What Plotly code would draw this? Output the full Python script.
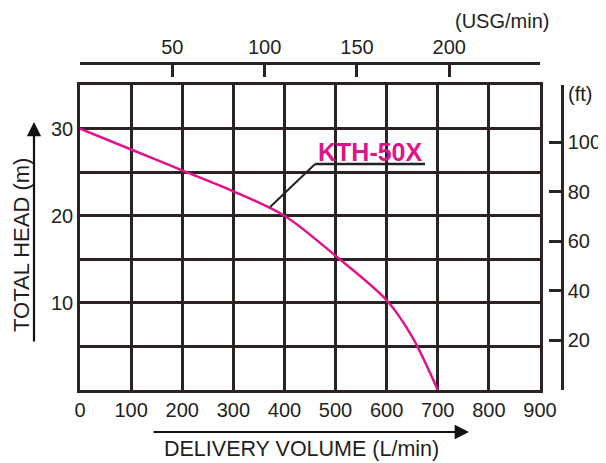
import plotly.graph_objects as go

# ---- data ----
flow_lpm = [0, 100, 200, 300, 400, 500, 600, 650, 700]
head_m = [30, 27.6, 25.2, 22.8, 20.0, 15.4, 10.3, 6.1, 0]
x_ticks = [0, 100, 200, 300, 400, 500, 600, 700, 800, 900]
y_ticks = [0, 5, 10, 15, 20, 25, 30, 35]
y_ticktext = ["", "", "10", "", "20", "", "30", ""]
usg_ticks = [50, 100, 150, 200]
ft_ticks = [20, 40, 60, 80, 100]
series_name = "KTH-50X"

L_PER_USG = 3.78541
M_PER_FT = 0.3048

OFF = 8  # page body margin
W, H = 606 - OFF, 463 - OFF
ml, mt = 80 - OFF, 63 - OFF
mr = W - (562 - OFF)
mb = H - (390 - OFF)
pw, ph = W - ml - mr, H - mt - mb
xdom = (540 - 80) / pw
ydom = (390 - 85) / ph

XMAX, YMAX = 900, 35
GRID = "#2b2222"
MAG = "#e0148a"
FONT = "Liberation Sans, Arial, sans-serif"

fig = go.Figure()
fig.add_trace(go.Scatter(x=flow_lpm, y=head_m, mode="lines",
                         line=dict(color=MAG, width=2.5, shape="spline", smoothing=0.9),
                         showlegend=False, hoverinfo="skip"))
fig.add_trace(go.Scatter(x=[0], y=[None], xaxis="x2", yaxis="y", showlegend=False, hoverinfo="skip"))
fig.add_trace(go.Scatter(x=[0], y=[None], xaxis="x", yaxis="y2", showlegend=False, hoverinfo="skip"))

tickfont = dict(size=20)
fig.update_layout(
    width=W, height=H,
    margin=dict(l=ml, r=mr, t=mt, b=mb),
    paper_bgcolor="white", plot_bgcolor="white",
    font=dict(family=FONT, size=20, color="#231f20"),
    xaxis=dict(domain=[0, xdom], range=[0, XMAX], tickvals=x_ticks, tickfont=tickfont,
               showgrid=True, gridcolor=GRID, gridwidth=2.5,
               showline=True, linecolor=GRID, linewidth=2.5, mirror=True,
               ticks="", ticklen=0, zeroline=False, fixedrange=True, automargin=False),
    yaxis=dict(domain=[0, ydom], range=[0, YMAX], tickvals=y_ticks, ticktext=y_ticktext,
               tickfont=tickfont,
               showgrid=True, gridcolor=GRID, gridwidth=2.5,
               showline=True, linecolor=GRID, linewidth=2.5, mirror=True,
               ticks="", ticklen=0, zeroline=False, fixedrange=True, automargin=False),
    xaxis2=dict(overlaying="x", side="top", anchor="free", position=1,
                domain=[0, 1], range=[0, XMAX / L_PER_USG / xdom], tickfont=tickfont,
                tickvals=usg_ticks, ticks="inside", ticklen=12, tickwidth=2.5,
                tickcolor=GRID, showline=True, linecolor=GRID, linewidth=2.5,
                showgrid=False, zeroline=False, fixedrange=True, automargin=False),
    yaxis2=dict(overlaying="y", side="right", anchor="free", position=1,
                domain=[0, 1], range=[0, YMAX / M_PER_FT / ydom], tickfont=tickfont,
                tickvals=ft_ticks, ticks="inside", ticklen=12, tickwidth=2.5,
                tickcolor=GRID, showline=True, linecolor=GRID, linewidth=2.5,
                showgrid=False, zeroline=False, fixedrange=True, automargin=False),
)

def px2x(px):
    return (px - OFF - ml) / pw
def py2y(py):
    return (H - mb - (py - OFF)) / ph

anns = [
    dict(text="(USG/min)", xref="paper", yref="paper", x=px2x(502), y=py2y(21),
         xanchor="center", yanchor="middle", showarrow=False, font=dict(size=20)),
    dict(text="(ft)", xref="paper", yref="paper", x=px2x(566), y=py2y(94),
         xanchor="left", yanchor="middle", showarrow=False, font=dict(size=20)),
    dict(text="TOTAL HEAD (m)", xref="paper", yref="paper", x=px2x(21), y=py2y(245),
         xanchor="center", yanchor="middle",
         textangle=-90, showarrow=False, font=dict(size=22)),
    dict(text="DELIVERY VOLUME (L/min)", xref="paper", yref="paper", x=px2x(301), y=py2y(449),
         xanchor="center", yanchor="middle", showarrow=False, font=dict(size=21.5)),
    dict(text="", xref="paper", yref="paper", x=px2x(34), y=py2y(122),
         ax=0, ay=221, showarrow=True, arrowhead=2, arrowsize=1.3, arrowwidth=2.2,
         arrowcolor="#111"),
    dict(text="", xref="paper", yref="paper", x=px2x(469), y=py2y(432),
         ax=-317, ay=0, showarrow=True, arrowhead=2, arrowsize=1.3, arrowwidth=2.2,
         arrowcolor="#111"),
    dict(text="<b>" + series_name + "</b>", xref="x", yref="y", x=568, y=27.35,
         showarrow=False, font=dict(size=25, color=MAG)),
]
fig.update_layout(annotations=anns)

fig.add_shape(type="line", xref="x", yref="y", x0=460, y0=25.93, x1=675, y1=25.93,
              line=dict(color="#222", width=2.5))
fig.add_shape(type="line", xref="x", yref="y", x0=460, y0=25.93, x1=372, y1=21.0,
              line=dict(color="#222", width=2))

fig.write_html("out.html")
